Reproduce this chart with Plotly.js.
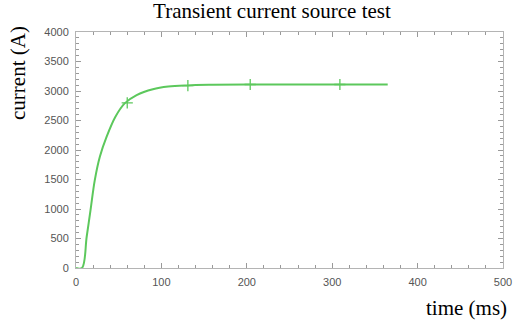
<!DOCTYPE html>
<html>
<head>
<meta charset="utf-8">
<script src="https://cdn.plot.ly/plotly-3.0.1.min.js"></script>
<style>html,body{margin:0;padding:0;background:#fff;}#chart{width:516px;height:321px;}</style>
</head>
<body>
<div id="chart"></div>
<script>
// Curve samples (time in ms, current in A)
const timeMs = [0, 7, 12.5, 17, 22, 28, 36, 46, 57, 71, 90, 108, 130, 160, 200, 250, 300, 365];
const currentA = [0, 0, 530, 980, 1490, 1890, 2230, 2560, 2790, 2930, 3030, 3075, 3095, 3105, 3110, 3110, 3110, 3110];
// Marker points
const markerTime = [60, 131, 204, 309];
const markerCurrent = [2800, 3090, 3110, 3110];

const titleText = 'Transient current source test';
const xTitle = 'time (ms)';
const yTitle = 'current (A)';

const green = 'rgb(92,200,92)';
const axisGrey = '#b4b4b4';
const serif = 'Liberation Serif, Times New Roman, serif';

const traces = [
  {x: timeMs, y: currentA, mode: 'lines', line: {color: green, width: 2, shape: 'spline'}, hoverinfo: 'skip'},
  {x: markerTime, y: markerCurrent, mode: 'markers', marker: {symbol: 'cross-thin-open', size: 8, color: green, line: {color: green, width: 1.3}}, hoverinfo: 'skip'}
];

const axisCommon = {
  showgrid: false, zeroline: false, showline: true, linecolor: axisGrey, linewidth: 1,
  mirror: 'allticks', ticks: 'inside', ticklen: 5, tickcolor: '#999', tickwidth: 1,
  tickfont: {family: 'Liberation Sans, Arial, sans-serif', size: 11, color: '#555'},
  fixedrange: true
};

const layout = {
  width: 516, height: 321,
  margin: {l: 76, r: 13, t: 32, b: 53},
  paper_bgcolor: '#fff', plot_bgcolor: '#fff',
  showlegend: false,
  title: {text: titleText, font: {family: serif, size: 21, color: '#000'}, x: 0.527, xanchor: 'center', y: 0.99, yanchor: 'top'},
  xaxis: Object.assign({}, axisCommon, {range: [0, 500], dtick: 100, tick0: 0, ticklabelstandoff: 4,
    minor: {dtick: 20, ticks: 'inside', ticklen: 3, tickcolor: '#999', showgrid: false}}),
  yaxis: Object.assign({}, axisCommon, {range: [0, 4000], dtick: 500, tick0: 0, ticklabelstandoff: 4,
    minor: {dtick: 100, ticks: 'inside', ticklen: 3, tickcolor: '#999', showgrid: false}}),
  annotations: [
    {text: xTitle, xref: 'paper', yref: 'paper', x: 1.015, y: -0.168, xanchor: 'right', yanchor: 'middle', showarrow: false,
     font: {family: serif, size: 21, color: '#000'}},
    {text: yTitle, xref: 'paper', yref: 'paper', x: -0.136, y: 0.826, xanchor: 'center', yanchor: 'middle', textangle: -90, showarrow: false,
     font: {family: serif, size: 21, color: '#000'}}
  ]
};

Plotly.newPlot('chart', traces, layout, {displayModeBar: false, staticPlot: true});
</script>
</body>
</html>
